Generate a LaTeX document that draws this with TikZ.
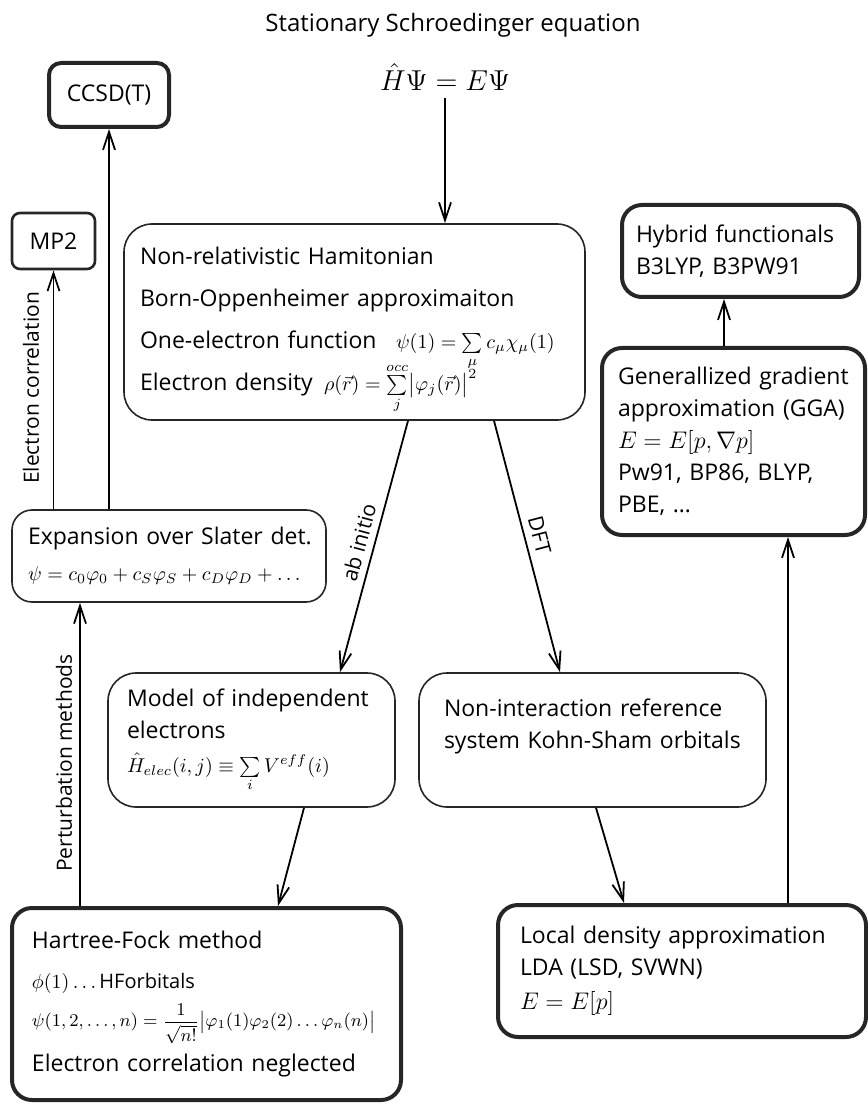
\documentclass[tikz,border=0pt]{standalone}
\usepackage{amsmath}
\usepackage{fontspec}
\setmainfont{Open Sans}
\usetikzlibrary{arrows.meta, positioning}

\newcommand{\fml}[1]{\mbox{\fontsize{10}{12}\selectfont$#1$}}

\begin{document}
\begin{tikzpicture}[
  x=0.5pt, y=-0.5pt,
  font=\fontsize{11.5}{16}\selectfont,
  box/.style={draw=black!85, line width=0.8pt, rounded corners=14pt,
              align=left, inner xsep=8pt, inner ysep=0pt},
  heavy/.style={box, line width=2pt, rounded corners=10pt},
  arr/.style={-{Straight Barb[length=9pt, width=6pt]}, line width=0.9pt},
  lbl/.style={font=\fontsize{10.5}{13}\selectfont}
]
\useasboundingbox (0,0) rectangle (867,1106);

\node[font=\fontsize{12}{14}\selectfont] (title) at (453,25) {Stationary Schroedinger equation};
\node[font=\fontsize{14.5}{17}\selectfont] (eq) at (445,77) {$\hat H\Psi = E\Psi$};

% central block
\node[box, text width=214.5pt, minimum height=98pt] (main) at (354.5,322)
  {Non-relativistic Hamitonian\\[5pt]
   Born-Oppenheimer~approximaiton\\[5pt]
   \makebox[128pt][l]{One-electron function}\smash{\fml{\psi(1)=\sum\limits_{\mu} c_\mu\chi_\mu(1)}}\\[5pt]
   \makebox[92pt][l]{Electron density}\smash{\fml{\rho(\vec r)=\sum\limits_{j}^{occ}\bigl|\varphi_j(\vec r)\bigr|^2}}};

% ab initio side
\node[heavy, rounded corners=6pt, align=center, inner xsep=0pt,
      minimum width=60pt, minimum height=32pt] (ccsd) at (109,95) {CCSD(T)};
\node[box, line width=1.3pt, rounded corners=4pt, align=center, inner xsep=0pt,
      minimum width=41.5pt, minimum height=28pt] (mp2) at (53.5,241) {MP2};
\node[box, rounded corners=10pt, text width=141pt, minimum height=46pt] (exp) at (169,556)
  {Expansion~over~Slater~det.\\[2pt]
   \fml{\psi = c_0\varphi_0+c_S\varphi_S+c_D\varphi_D+\ldots}};
\node[box, inner xsep=9.5pt, text width=124.5pt, minimum height=67pt] (model) at (251.5,740)
  {Model~of~independent\\electrons\\[1pt]
   \fml{\hat H_{elec}(i,j)\equiv\sum\limits_{i} V^{eff}(i)}};
\node[heavy, inner xsep=10pt, text width=174.5pt, minimum height=96pt] (hf) at (206.5,1004)
  {Hartree-Fock method\\[4pt]
   \fml{\phi(1)\ldots\mathrm{HForbitals}}\\[3pt]
   \mbox{\fontsize{9}{11}\selectfont$\psi(1,2,\ldots,n)=\dfrac{1}{\sqrt{n!}}\bigl|\varphi_1(1)\varphi_2(2)\ldots\varphi_n(n)\bigr|$}\\[4pt]
   Electron~correlation~neglected};

% DFT side
\node[box, inner xsep=12.5pt, text width=148.5pt, minimum height=67pt] (nonint) at (592.5,740)
  {Non-interaction~reference\\system~Kohn-Sham~orbitals\\\mbox{}};
\node[heavy, inner xsep=11pt, text width=162pt, minimum height=66pt] (lda) at (682,971)
  {Local~density~approximation\\LDA (LSD, SVWN)\\[1pt]\mbox{\fontsize{12}{14}\selectfont$E=E[p]$}};
\node[heavy, text width=115.5pt, minimum height=93.5pt] (gga) at (733.5,441.5)
  {Generallized~gradient\\approximation~(GGA)\\\mbox{\fontsize{12.5}{14}\selectfont$E=E[p,\nabla p]$}\\Pw91, BP86, BLYP,\\PBE, \ldots};
\node[heavy, inner xsep=7pt, text width=104.5pt, minimum height=46pt] (hyb) at (740.5,251)
  {Hybrid~functionals\\B3LYP, B3PW91};

\node[lbl, rotate=90] (ecorr) at (31,388) {Electron correlation};
\node[lbl, rotate=90] (pert) at (64,763) {Perturbation methods};

\draw[arr] (eq.south) -- (eq.south |- main.north);
\draw[arr] ([xshift=26.75pt]main.south) -- node[lbl, sloped, above, pos=0.5] {ab initio} ([xshift=44.25pt]model.north);
\draw[arr] ([xshift=69.75pt]main.south) -- node[lbl, sloped, above, pos=0.47] {DFT} ([xshift=-16.25pt]nonint.north);
\draw[arr] ([xshift=26.25pt]model.south) -- ([xshift=35.75pt]hf.north);
\draw[arr] ([xshift=1.75pt]nonint.south) -- ([xshift=-29pt]lda.north);
\draw[arr] ([xshift=53pt]lda.north) -- ([xshift=53pt]lda.north |- gga.south);
\draw[arr] ([xshift=-4.75pt]gga.north) -- ([xshift=-4.75pt]gga.north |- hyb.south);
\draw[arr] ([xshift=-63.25pt]hf.north) -- ([xshift=-63.25pt]hf.north |- exp.south);
\draw[arr] (mp2.south |- exp.north) -- (mp2.south);
\draw[arr] (ccsd.south |- exp.north) -- (ccsd.south);
\end{tikzpicture}
\end{document}
